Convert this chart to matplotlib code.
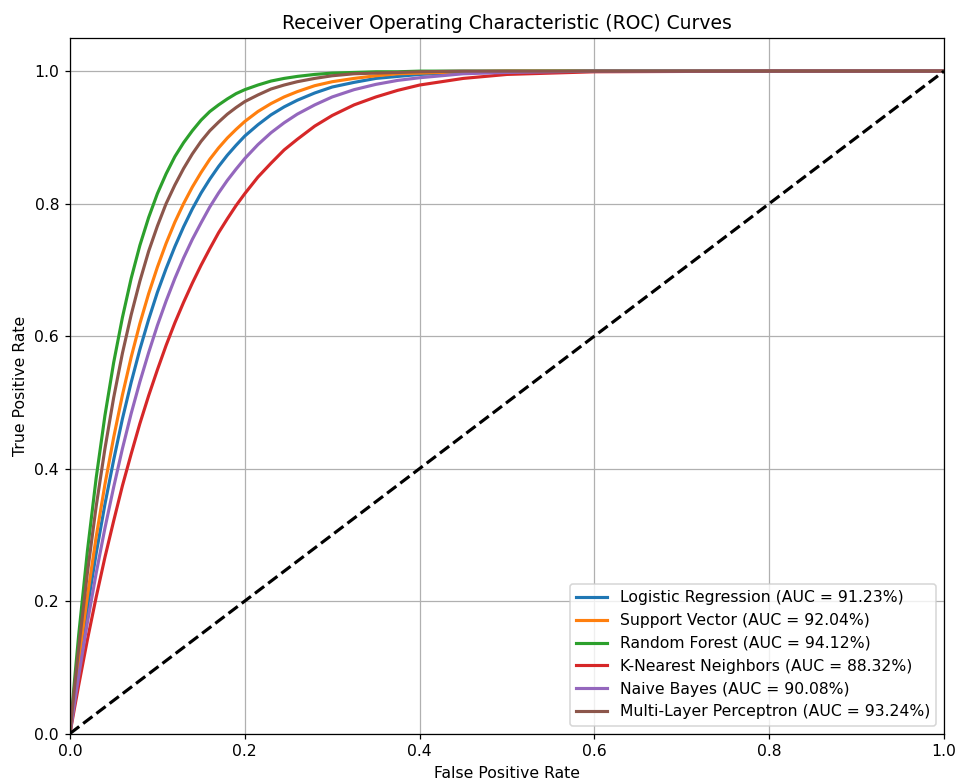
import matplotlib
matplotlib.use("Agg")
import matplotlib.pyplot as plt

fpr = [0, 0.005, 0.01, 0.02, 0.03, 0.04, 0.05, 0.06, 0.07, 0.08, 0.09, 0.10,
       0.11, 0.12, 0.13, 0.14, 0.15, 0.16, 0.17, 0.18, 0.19, 0.20, 0.215, 0.23,
       0.245, 0.26, 0.28, 0.30, 0.325, 0.35, 0.375, 0.40, 0.45, 0.50, 0.60, 0.80, 1.00]

tpr_lr = [0, 0.051, 0.099, 0.190, 0.272, 0.346, 0.413, 0.475, 0.530, 0.580, 0.625, 0.666,
          0.702, 0.735, 0.765, 0.792, 0.816, 0.837, 0.856, 0.873, 0.888, 0.902, 0.919, 0.934,
          0.946, 0.956, 0.967, 0.976, 0.983, 0.989, 0.992, 0.995, 0.998, 0.999, 1.000, 1.000, 1.000]
tpr_svm = [0, 0.056, 0.110, 0.208, 0.297, 0.376, 0.447, 0.511, 0.568, 0.619, 0.664, 0.704,
           0.740, 0.772, 0.800, 0.825, 0.847, 0.867, 0.884, 0.899, 0.912, 0.924, 0.939, 0.951,
           0.961, 0.969, 0.978, 0.984, 0.989, 0.993, 0.996, 0.997, 0.999, 1.000, 1.000, 1.000, 1.000]
tpr_rf = [0, 0.077, 0.149, 0.276, 0.386, 0.480, 0.560, 0.628, 0.687, 0.737, 0.779, 0.815,
          0.845, 0.871, 0.892, 0.910, 0.926, 0.939, 0.949, 0.958, 0.966, 0.972, 0.979, 0.985,
          0.989, 0.992, 0.995, 0.997, 0.998, 0.999, 0.999, 1.000, 1.000, 1.000, 1.000, 1.000, 1.000]
tpr_knn = [0, 0.037, 0.073, 0.142, 0.206, 0.266, 0.321, 0.374, 0.422, 0.468, 0.510, 0.549,
           0.586, 0.620, 0.651, 0.680, 0.707, 0.732, 0.756, 0.777, 0.797, 0.815, 0.840, 0.861,
           0.881, 0.897, 0.917, 0.933, 0.949, 0.961, 0.971, 0.979, 0.989, 0.995, 0.999, 1.000, 1.000]
tpr_nb = [0, 0.044, 0.087, 0.168, 0.242, 0.310, 0.372, 0.430, 0.483, 0.531, 0.575, 0.616,
          0.653, 0.687, 0.718, 0.746, 0.771, 0.795, 0.816, 0.835, 0.852, 0.868, 0.889, 0.907,
          0.922, 0.935, 0.949, 0.961, 0.972, 0.980, 0.986, 0.990, 0.996, 0.998, 1.000, 1.000, 1.000]
tpr_mlp = [0, 0.067, 0.129, 0.243, 0.343, 0.430, 0.507, 0.574, 0.632, 0.683, 0.728, 0.766,
           0.800, 0.828, 0.853, 0.875, 0.894, 0.910, 0.923, 0.935, 0.945, 0.954, 0.964, 0.973,
           0.979, 0.984, 0.989, 0.993, 0.996, 0.997, 0.998, 0.999, 1.000, 1.000, 1.000, 1.000, 1.000]

models = ["Logistic Regression", "Support Vector", "Random Forest",
          "K-Nearest Neighbors", "Naive Bayes", "Multi-Layer Perceptron"]
aucs = [91.23, 92.04, 94.12, 88.32, 90.08, 93.24]
series = [tpr_lr, tpr_svm, tpr_rf, tpr_knn, tpr_nb, tpr_mlp]
colors = ["#1f77b4", "#ff7f0e", "#2ca02c", "#d62728", "#9467bd", "#8c564b"]

fig = plt.figure(figsize=(8.5, 6.945), dpi=112.6)
ax = fig.add_axes([0.0731, 0.0620, 0.9133, 0.8894])

for name, auc, tpr, c in zip(models, aucs, series, colors):
    ax.plot(fpr, tpr, color=c, lw=2, label=f"{name} (AUC = {auc:.2f}%)")

ax.plot([0, 1], [0, 1], "k--", lw=2)
ax.set_xlim(0, 1.0)
ax.set_ylim(0, 1.05)
ax.set_xlabel("False Positive Rate")
ax.set_ylabel("True Positive Rate")
ax.set_title("Receiver Operating Characteristic (ROC) Curves", fontsize=12)
ax.legend(loc="lower right")
ax.grid(True)

fig.savefig("out.png", dpi=112.6)
